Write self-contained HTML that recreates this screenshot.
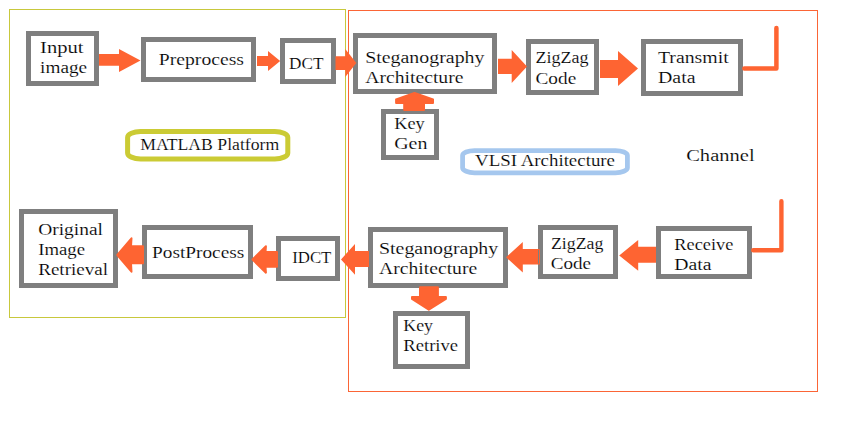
<!DOCTYPE html>
<html><head><meta charset="utf-8"><style>
html,body{margin:0;padding:0;background:#fff;width:858px;height:442px;overflow:hidden}
svg{display:block}
text{font-family:"Liberation Serif",serif;font-size:17px;fill:#000;stroke:#fff;stroke-width:0.15px}
</style></head><body>
<svg width="858" height="442" viewBox="0 0 858 442">
<rect x="9.5" y="9.5" width="336" height="308" fill="none" stroke="#c8c83c" stroke-width="1"/>
<rect x="348.5" y="10.5" width="469" height="381" fill="none" stroke="#fb6536" stroke-width="1"/>
<rect x="28.5" y="33.5" width="68" height="50" fill="#fff" stroke="#7f7f7f" stroke-width="5"/>
<rect x="143.5" y="39.5" width="110" height="40" fill="#fff" stroke="#7f7f7f" stroke-width="5"/>
<rect x="282.5" y="40.5" width="51" height="41" fill="#fff" stroke="#7f7f7f" stroke-width="5"/>
<rect x="355.5" y="35.5" width="139" height="56" fill="#fff" stroke="#7f7f7f" stroke-width="5"/>
<rect x="528.5" y="41.5" width="68" height="51" fill="#fff" stroke="#7f7f7f" stroke-width="5"/>
<rect x="643.5" y="41.5" width="97" height="52" fill="#fff" stroke="#7f7f7f" stroke-width="5"/>
<rect x="383.5" y="111.5" width="53" height="46" fill="#fff" stroke="#7f7f7f" stroke-width="5"/>
<rect x="21.5" y="211.5" width="94" height="74" fill="#fff" stroke="#7f7f7f" stroke-width="5"/>
<rect x="144.5" y="227.5" width="106" height="49" fill="#fff" stroke="#7f7f7f" stroke-width="5"/>
<rect x="278.5" y="238.5" width="59" height="40" fill="#fff" stroke="#7f7f7f" stroke-width="5"/>
<rect x="370.5" y="229.5" width="135" height="56" fill="#fff" stroke="#7f7f7f" stroke-width="5"/>
<rect x="540.5" y="227.5" width="75" height="49" fill="#fff" stroke="#7f7f7f" stroke-width="5"/>
<rect x="658.5" y="228.5" width="91" height="48" fill="#fff" stroke="#7f7f7f" stroke-width="5"/>
<rect x="395.5" y="313.5" width="72" height="53" fill="#fff" stroke="#7f7f7f" stroke-width="5"/>
<polygon points="99.00,54.00 119.00,54.00 119.00,49.00 140.50,60.50 119.00,72.00 119.00,65.70 99.00,65.70" fill="#fe6432"/>
<polygon points="257.00,56.00 268.00,56.00 268.00,51.00 280.20,61.00 268.00,71.00 268.00,66.00 257.00,66.00" fill="#fe6432"/>
<polygon points="335.50,56.20 345.30,56.20 345.30,48.90 356.30,62.95 345.30,77.00 345.30,70.00 335.50,70.00" fill="#fe6432"/>
<polygon points="498.00,58.70 511.70,58.70 511.70,50.00 527.00,66.50 511.70,83.00 511.70,74.00 498.00,74.00" fill="#fe6432"/>
<polygon points="600.00,60.00 618.00,60.00 618.00,51.00 638.00,68.50 618.00,86.00 618.00,78.00 600.00,78.00" fill="#fe6432"/>
<polygon points="656.00,246.80 638.20,246.80 638.20,240.00 619.20,255.40 638.20,270.80 638.20,262.70 656.00,262.70" fill="#fe6432"/>
<polygon points="538.00,249.00 522.80,249.00 522.80,242.00 506.00,257.30 522.80,272.60 522.80,264.60 538.00,264.60" fill="#fe6432"/>
<polygon points="369.00,251.00 355.00,251.00 355.00,244.00 341.00,259.40 355.00,274.80 355.00,267.00 369.00,267.00" fill="#fe6432"/>
<polygon points="277.00,252.00 265.50,252.00 265.92,246.33 252.45,259.50 265.92,272.67 265.50,266.80 277.00,266.80" fill="#fe6432" stroke="#fe6432" stroke-width="2" stroke-linejoin="round"/>
<polygon points="143.00,246.30 131.00,246.30 131.48,238.36 117.34,255.00 131.48,271.64 131.00,263.20 143.00,263.20" fill="#fe6432" stroke="#fe6432" stroke-width="2" stroke-linejoin="round"/>
<polygon points="404.20,110.00 404.20,102.90 396.10,102.90 396.10,99.51 414.50,93.06 433.00,99.51 433.00,102.90 424.00,102.90 424.00,110.00" fill="#fe6432" stroke="#fe6432" stroke-width="2" stroke-linejoin="round"/>
<polygon points="420.00,287.20 437.90,287.20 437.90,297.10 445.90,297.10 445.90,298.95 428.80,309.62 412.00,298.95 412.00,297.10 420.00,297.10" fill="#fe6432" stroke="#fe6432" stroke-width="2" stroke-linejoin="round"/>
<path d="M538,249.5 H539.5 V264.1 H538" fill="none" stroke="#fe6432" stroke-width="1"/>
<rect x="127.6" y="131.4" width="160.2" height="27.5" rx="13" ry="6" fill="none" stroke="#cbcb34" stroke-width="5"/>
<rect x="462.6" y="150.6" width="164.8" height="22.2" rx="12" ry="5" fill="none" stroke="#a5c7ee" stroke-width="4.8"/>
<polyline points="744.3,68.4 776.4,68.4 776.4,28" fill="none" stroke="#fe6432" stroke-width="4.5" stroke-linecap="round" stroke-linejoin="round"/>
<polyline points="753.2,250.2 781.4,250.2 781.4,201.2" fill="none" stroke="#fe6432" stroke-width="4.4" stroke-linecap="round" stroke-linejoin="round"/>
<text x="40.10" y="53.10" textLength="43.50" lengthAdjust="spacingAndGlyphs">Input</text>
<text x="40.10" y="73.00" textLength="47.00" lengthAdjust="spacingAndGlyphs">image</text>
<text x="158.80" y="65.20" textLength="85.20" lengthAdjust="spacingAndGlyphs">Preprocess</text>
<text x="289.10" y="69.20" textLength="34.40" lengthAdjust="spacingAndGlyphs">DCT</text>
<text x="365.20" y="63.20" textLength="119.30" lengthAdjust="spacingAndGlyphs">Steganography</text>
<text x="365.20" y="83.00" textLength="98.30" lengthAdjust="spacingAndGlyphs">Architecture</text>
<text x="535.50" y="63.40" textLength="53.00" lengthAdjust="spacingAndGlyphs">ZigZag</text>
<text x="535.50" y="83.60" textLength="40.70" lengthAdjust="spacingAndGlyphs">Code</text>
<text x="657.90" y="63.10" textLength="70.80" lengthAdjust="spacingAndGlyphs">Transmit</text>
<text x="658.00" y="83.30" textLength="37.50" lengthAdjust="spacingAndGlyphs">Data</text>
<text x="140.20" y="150.20" textLength="139.00" lengthAdjust="spacingAndGlyphs">MATLAB Platform</text>
<text x="394.20" y="129.40" textLength="30.50" lengthAdjust="spacingAndGlyphs">Key</text>
<text x="394.20" y="149.00" textLength="33.30" lengthAdjust="spacingAndGlyphs">Gen</text>
<text x="475.00" y="165.90" textLength="140.00" lengthAdjust="spacingAndGlyphs">VLSI Architecture</text>
<text x="686.20" y="161.00" textLength="68.40" lengthAdjust="spacingAndGlyphs">Channel</text>
<text x="38.20" y="235.20" textLength="64.80" lengthAdjust="spacingAndGlyphs">Original</text>
<text x="38.20" y="255.10" textLength="46.80" lengthAdjust="spacingAndGlyphs">Image</text>
<text x="38.20" y="275.10" textLength="69.80" lengthAdjust="spacingAndGlyphs">Retrieval</text>
<text x="152.00" y="258.20" textLength="92.30" lengthAdjust="spacingAndGlyphs">PostProcess</text>
<text x="292.20" y="263.20" textLength="39.20" lengthAdjust="spacingAndGlyphs">IDCT</text>
<text x="379.00" y="254.00" textLength="119.20" lengthAdjust="spacingAndGlyphs">Steganography</text>
<text x="379.00" y="273.90" textLength="98.20" lengthAdjust="spacingAndGlyphs">Architecture</text>
<text x="551.00" y="248.50" textLength="52.40" lengthAdjust="spacingAndGlyphs">ZigZag</text>
<text x="550.70" y="268.70" textLength="40.30" lengthAdjust="spacingAndGlyphs">Code</text>
<text x="674.30" y="250.30" textLength="59.00" lengthAdjust="spacingAndGlyphs">Receive</text>
<text x="674.30" y="270.10" textLength="37.20" lengthAdjust="spacingAndGlyphs">Data</text>
<text x="403.30" y="330.90" textLength="29.70" lengthAdjust="spacingAndGlyphs">Key</text>
<text x="403.30" y="350.90" textLength="54.80" lengthAdjust="spacingAndGlyphs">Retrive</text>
</svg>
</body></html>
